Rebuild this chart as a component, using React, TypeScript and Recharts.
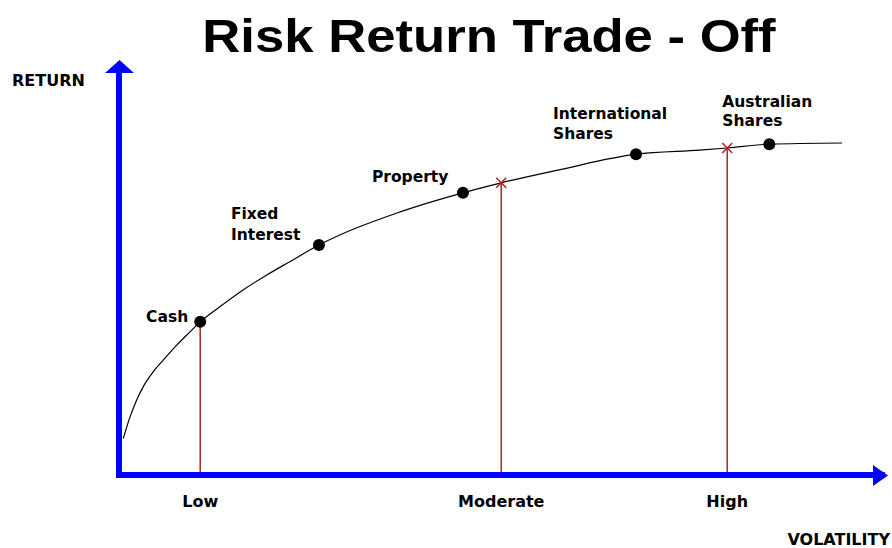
import {
  ComposedChart,
  Line,
  Scatter,
  XAxis,
  YAxis,
  ReferenceLine,
  ReferenceDot,
} from 'recharts';

// curve of the risk/return frontier (volatility 0-100, return 0-100)
const curveVol = [0.56, 1.44, 2.31, 3.17, 4.48, 5.78, 7.53, 9.27, 10.6, 13.2, 16.2, 19.3, 22.3, 26.1, 36.7, 44.9, 49.9, 57.6, 67.5, 75.8, 79.4, 84.9, 94.4];
const curveRet = [8.8, 14.0, 18.1, 21.3, 24.9, 27.7, 31.3, 34.5, 36.9, 40.6, 44.6, 48.2, 51.4, 55.4, 63.4, 68.0, 70.4, 73.6, 77.3, 78.3, 78.8, 79.7, 80.0];

// asset classes
const assetNames = ['Cash', 'Fixed Interest', 'Property', 'International Shares', 'Australian Shares'];
const assetVol = [10.6, 26.1, 44.9, 67.5, 84.9];
const assetRet = [36.9, 55.4, 68.0, 77.3, 79.7];

// volatility levels on the x axis
const levelLabels = ['Low', 'Moderate', 'High'];
const levelVol = [10.6, 49.9, 79.4];
const levelRet = [36.9, 70.4, 78.8];

const curve = curveVol.map((v, i) => ({ v, r: curveRet[i] }));
const assets = assetNames.map((name, i) => ({ name, v: assetVol[i], r: assetRet[i] }));
const crosses = levelVol.slice(1).map((v, i) => ({ v, r: levelRet[i + 1] }));

// label placement relative to each dot (px)
const labelPos: Record<string, { dx: number; dy: number[]; anchor: string }> = {
  Cash: { dx: -12, dy: [0], anchor: 'end' },
  'Fixed Interest': { dx: -88, dy: [-26, -5], anchor: 'start' },
  Property: { dx: -91, dy: [-11], anchor: 'start' },
  'International Shares': { dx: -83, dy: [-35, -15], anchor: 'start' },
  'Australian Shares': { dx: -47, dy: [-37, -18], anchor: 'start' },
};

const BLUE = '#0000ff';
const RED = '#b22222';
const LABEL_FONT = 'DejaVu Sans, Verdana, sans-serif';

const AssetDot = (props: any) => {
  const { cx, cy, payload } = props;
  const pos = labelPos[payload.name];
  const lines = payload.name.split(' ');
  return (
    <g>
      <circle cx={cx} cy={cy} r={6} fill="#000" />
      {lines.map((t: string, i: number) => (
        <text
          key={t}
          x={cx + pos.dx}
          y={cy + pos.dy[i]}
          textAnchor={pos.anchor as any}
          fontFamily={LABEL_FONT}
          fontWeight="bold"
          fontSize={15.5}
          fill="#000"
        >
          {t}
        </text>
      ))}
    </g>
  );
};

const CrossMark = (props: any) => {
  const { cx, cy } = props;
  const s = 5;
  return (
    <g stroke={RED} strokeWidth={1.5}>
      <line x1={cx - s} y1={cy - s} x2={cx + s} y2={cy + s} />
      <line x1={cx - s} y1={cy + s} x2={cx + s} y2={cy - s} />
    </g>
  );
};

const XArrow = (props: any) => {
  const { cx, cy } = props;
  return <path d={`M${cx - 12},${cy - 10} L${cx + 3},${cy + 0.5} L${cx - 12},${cy + 11} Z`} fill={BLUE} />;
};

const YArrow = (props: any) => {
  const { cx, cy } = props;
  return <path d={`M${cx - 14},${cy + 13} L${cx + 0.5},${cy} L${cx + 15},${cy + 13} Z`} fill={BLUE} />;
};

export default function App() {
  return (
    <div style={{ position: 'absolute', left: 0, top: 0, width: 892, height: 548, background: '#fff' }}>
      <div
        style={{
          position: 'absolute',
          left: 0,
          width: 978,
          top: 12,
          textAlign: 'center',
          fontFamily: 'Liberation Sans, Arial, sans-serif',
          fontWeight: 'bold',
          fontSize: 47,
          lineHeight: '47px',
          color: '#000',
          transform: 'scaleX(1.12)',
          transformOrigin: '489px 0',
          whiteSpace: 'nowrap',
        }}
      >
        Risk Return Trade - Off
      </div>
      <div
        style={{
          position: 'absolute',
          left: 12,
          top: 73,
          fontFamily: LABEL_FONT,
          fontWeight: 'bold',
          fontSize: 16,
          lineHeight: '16px',
          color: '#000',
        }}
      >
        RETURN
      </div>
      <div
        style={{
          position: 'absolute',
          right: 2,
          top: 532,
          fontFamily: LABEL_FONT,
          fontWeight: 'bold',
          fontSize: 16,
          lineHeight: '16px',
          color: '#000',
        }}
      >
        VOLATILITY
      </div>
      <ComposedChart width={892} height={548} margin={{ top: 60, right: 7, bottom: 33, left: 119 }}>
        <XAxis
          type="number"
          dataKey="v"
          domain={[0, 100]}
          ticks={levelVol}
          tickFormatter={(_v: number, i: number) => levelLabels[i]}
          axisLine={{ stroke: BLUE, strokeWidth: 6 }}
          tickLine={false}
          tickMargin={15}
          height={40}
          tick={{ fill: '#000', fontSize: 16, fontWeight: 'bold', fontFamily: LABEL_FONT }}
          allowDataOverflow
        />
        <YAxis type="number" dataKey="r" domain={[0, 100]} hide allowDataOverflow />
        {levelVol.map((v, i) => (
          <ReferenceLine
            key={levelLabels[i]}
            segment={[{ x: v, y: 0 }, { x: v, y: levelRet[i] }]}
            stroke={RED}
            strokeWidth={1.5}
            ifOverflow="visible"
          />
        ))}
        <ReferenceLine
          segment={[{ x: 0, y: -0.75 }, { x: 0, y: 97 }]}
          stroke={BLUE}
          strokeWidth={6}
          ifOverflow="visible"
        />
        <Line
          data={curve}
          dataKey="r"
          type="monotone"
          stroke="#000"
          strokeWidth={1.2}
          dot={false}
          isAnimationActive={false}
        />
        <Scatter data={crosses} dataKey="r" shape={<CrossMark />} isAnimationActive={false} />
        <Scatter data={assets} dataKey="r" shape={<AssetDot />} isAnimationActive={false} />
        <ReferenceDot x={100} y={0} r={0} shape={<XArrow />} ifOverflow="visible" />
        <ReferenceDot x={0} y={100} r={0} shape={<YArrow />} ifOverflow="visible" />
      </ComposedChart>
    </div>
  );
}
